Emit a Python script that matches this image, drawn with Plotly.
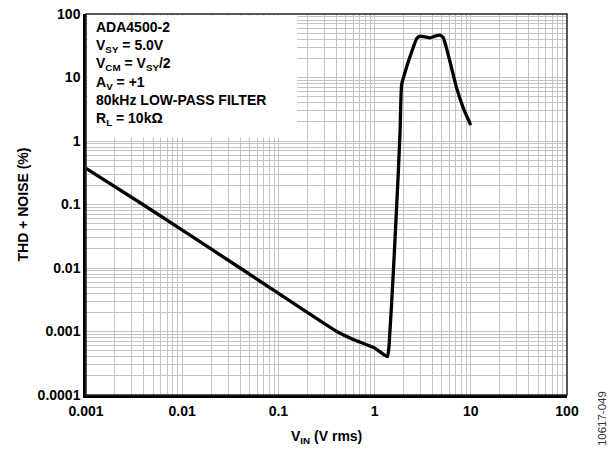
import plotly.graph_objects as go

# THD + noise vs input level, ADA4500-2
vin_rms = [0.001, 0.0039, 0.04, 0.168, 0.40, 0.60, 1.00, 1.36, 1.42, 1.57,
           1.76, 1.84, 1.91, 2.16, 2.43, 2.74, 2.97, 3.34, 3.77, 4.25, 4.79,
           5.18, 5.60, 6.32, 7.13, 8.36, 9.98]
thd_noise_pct = [0.37, 0.1, 0.01, 0.00237, 0.00101, 0.00075, 0.00055, 0.0004,
                 0.00066, 0.0093, 0.30, 1.43, 7.7, 14.9, 25.5, 41.2, 44.8,
                 43.6, 42.2, 44.8, 46.4, 42.2, 28.7, 14.0, 6.8, 3.3, 1.78]

x_ticks = [0.001, 0.01, 0.1, 1, 10, 100]
x_tick_text = ["0.001", "0.01", "0.1", "1", "10", "100"]
y_ticks = [0.0001, 0.001, 0.01, 0.1, 1, 10, 100]
y_tick_text = ["0.0001", "0.001", "0.01", "0.1", "1", "10", "100"]

conditions = [
    "ADA4500-2",
    "V<sub>SY</sub> = 5.0V",
    "V<sub>CM</sub> = V<sub>SY</sub>/2",
    "A<sub>V</sub> = +1",
    "80kHz LOW-PASS FILTER",
    "R<sub>L</sub> = 10kΩ",
]

FONT = "Liberation Sans, Arial, sans-serif"
GRID = "#c4c4c4"

fig = go.Figure()
fig.add_trace(go.Scatter(
    x=vin_rms, y=thd_noise_pct, mode="lines",
    line=dict(color="black", width=3.3, shape="spline", smoothing=0.4),
    hoverinfo="skip", showlegend=False))

axis_common = dict(
    type="log", automargin=False, ticklabeloverflow="allow",
    showgrid=True, gridcolor=GRID, gridwidth=1,
    minor=dict(showgrid=True, gridcolor=GRID, gridwidth=1, dtick="D1"),
    showline=True, linecolor="black", linewidth=2.5,
    ticks="", zeroline=False,
    tickfont=dict(family=FONT, size=14, color="black", weight="bold"),
)

fig.update_xaxes(axis_common, range=[-3, 2], tickvals=x_ticks,
                 ticktext=x_tick_text, ticklabelstandoff=1)
fig.update_yaxes(axis_common, range=[-4, 2], tickvals=y_ticks,
                 ticktext=y_tick_text, ticklabelstandoff=0)

# frame on the top and right
fig.add_shape(type="rect", xref="x domain", yref="y domain",
              x0=0, x1=1, y0=0, y1=1, line=dict(color="#222", width=1.5),
              layer="above")
# white box behind the test conditions
fig.add_shape(type="rect", xref="x domain", yref="y domain",
              x0=0.003, x1=0.439, y0=0.676, y1=0.996,
              fillcolor="white", line=dict(width=0), layer="above")

fig.add_annotation(
    xref="x domain", yref="y domain", x=0.016, y=0.992,
    xanchor="left", yanchor="top", align="left", showarrow=False,
    text="<br>".join(conditions),
    font=dict(family=FONT, size=14, color="black", weight="bold"))

fig.add_annotation(
    xref="paper", yref="paper", x=-0.131, y=0.5, textangle=-90,
    xanchor="center", yanchor="middle",
    showarrow=False, text="THD + NOISE (%)",
    font=dict(family=FONT, size=14, color="black", weight="bold"))
fig.add_annotation(
    xref="paper", yref="paper", x=0.5, y=-0.11,
    xanchor="center", yanchor="middle", showarrow=False,
    text="V<sub>IN</sub> (V rms)",
    font=dict(family=FONT, size=14, color="black", weight="bold"))
fig.add_annotation(
    xref="paper", yref="paper", x=1.073, y=-0.063, textangle=-90,
    xanchor="center", yanchor="middle",
    showarrow=False, text="10617-049",
    font=dict(family=FONT, size=11.5, color="#333"))

# the page body adds an 8px offset, so the margins are shifted to match
fig.update_layout(
    width=616, height=455,
    margin=dict(l=78, r=57, t=6, b=68, autoexpand=False),
    paper_bgcolor="white", plot_bgcolor="white",
    font=dict(family=FONT),
)

fig.write_html("out.html")
